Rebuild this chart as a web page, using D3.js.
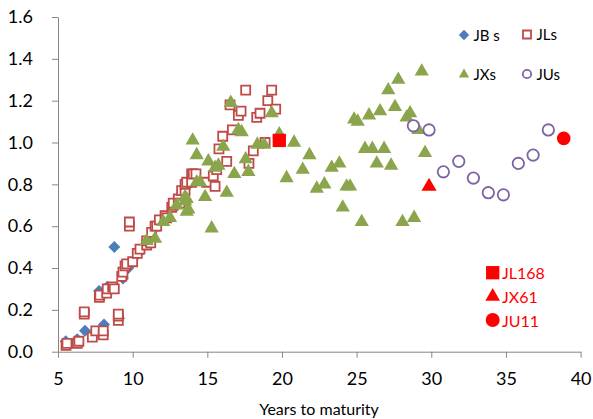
<!DOCTYPE html>
<html>
<head>
<meta charset="utf-8">
<script src="https://cdn.jsdelivr.net/npm/d3@7"></script>
<style>
  body { margin: 0; background: #fff; }
  text { font-family: Lato, "Noto Sans", sans-serif; }
</style>
</head>
<body>
<div id="chart"></div>
<script>
// series values, [years to maturity, value]
var jbs = [[5.52,0.05],[6.29,0.06],[6.81,0.10],[8.08,0.13],[8.77,0.50],
    [7.75,0.29],[8.3,0.31],[9.09,0.16],[9.35,0.35],[9.71,0.40],[10.4,0.47]];

var jls = [[5.54,0.03],[5.6,0.04],[6.29,0.04],[6.4,0.05],[6.76,0.18],[6.76,0.19],
    [7.3,0.07],[7.53,0.10],[8.03,0.08],[8.03,0.10],[9.04,0.15],[9.04,0.17],[9.04,0.18],
    [7.77,0.26],[7.8,0.27],[8.26,0.28],[8.3,0.30],[8.66,0.31],[8.77,0.30],[9.27,0.36],
    [9.35,0.38],[9.49,0.41],[9.6,0.42],[10.0,0.43],[10.31,0.47],[10.49,0.49],[10.94,0.51],
    [10.94,0.53],[11.21,0.52],[11.27,0.57],[11.5,0.60],[11.61,0.60],[11.79,0.63],[12.17,0.65],
    [12.28,0.64],[12.62,0.69],[12.72,0.70],[12.72,0.71],[13.06,0.72],[13.06,0.73],[13.17,0.71],
    [13.28,0.77],[13.51,0.77],[13.51,0.80],[13.62,0.81],[13.95,0.81],[13.95,0.85],[14.06,0.85],
    [14.24,0.85],[14.96,0.81],[15.4,0.84],[15.52,0.79],[15.63,0.87],[15.78,0.97],[16.03,1.03],
    [16.3,0.91],[16.52,1.18],[16.68,1.06],[17.08,1.13],[17.26,1.15],[17.57,1.25],[17.79,0.90],
    [18.08,0.96],[18.31,1.12],[18.53,1.14],[18.87,1.00],[19.05,1.20],[19.31,1.25],[19.58,1.16],
    [9.78,0.60],[9.78,0.62]];

var jxs = [[10.94,0.53],[11.5,0.54],[12.05,0.62],[12.5,0.64],[12.95,0.70],[13.51,0.72],
    [13.51,0.74],[13.62,0.67],[13.73,0.68],[13.62,0.73],[14.02,1.01],[14.29,0.94],[14.29,0.81],
    [14.51,0.81],[14.85,0.74],[15.07,0.91],[15.29,0.59],[15.52,0.88],[15.74,0.89],[16.07,0.98],
    [16.30,0.76],[16.57,1.19],[16.81,0.85],[17.08,1.06],[17.30,1.05],[17.57,0.92],[17.75,0.86],
    [18.35,0.99],[18.80,0.99],[19.31,1.14],[19.82,1.04],[20.31,0.83],[20.81,1.00],[21.39,0.87],
    [21.84,0.94],[22.33,0.78],[22.84,0.80],[23.33,0.88],[23.84,0.90],[24.07,0.69],[24.33,0.79],
    [24.56,0.79],[24.83,1.11],[25.07,1.10],[25.34,0.62],[25.56,0.97],[25.83,1.13],[26.05,0.97],
    [26.35,0.90],[26.57,1.15],[26.84,0.97],[27.12,1.25],[27.31,0.89],[27.57,1.17],[27.79,1.30],
    [28.07,0.62],[28.35,1.12],[28.58,1.14],[28.85,0.64],[29.13,1.06],[29.36,1.34],[29.58,0.95]];

var jus = [[28.80,1.08],[29.85,1.06],[30.81,0.86],[31.84,0.91],[32.82,0.83],
    [33.82,0.76],[34.83,0.75],[35.83,0.90],[36.82,0.94],[37.84,1.06]];

var jl168 = [[19.82,1.01]];
var jx61 = [[29.85,0.79]];
var ju11 = [[38.87,1.02]];

var xTicks = [5, 10, 15, 20, 25, 30, 35, 40];
var yTicks = [0, 0.2, 0.4, 0.6, 0.8, 1.0, 1.2, 1.4, 1.6];

var W = 593, H = 419;
var axisColor = "#868686";

var svg = d3.select("#chart").append("svg")
    .attr("width", W).attr("height", H);

var x = d3.scaleLinear().domain([5, 40]).range([58, 580.6]);
var y = d3.scaleLinear().domain([0, 1.6]).range([351.7, 17]);

// axes
var xAxis = svg.append("g")
    .attr("transform", "translate(0," + y(0) + ")")
    .call(d3.axisBottom(x).tickValues(xTicks).tickSize(6).tickPadding(15)
        .tickFormat(d3.format("d")).tickSizeOuter(0));
var yAxis = svg.append("g")
    .attr("transform", "translate(" + x(5) + ",0)")
    .call(d3.axisLeft(y).tickValues(yTicks).tickSize(6).tickPadding(19)
        .tickFormat(d3.format(".1f")).tickSizeOuter(0));

[xAxis, yAxis].forEach(function(a) {
    a.select(".domain").attr("stroke", axisColor);
    a.selectAll(".tick line").attr("stroke", axisColor);
    a.selectAll(".tick text").attr("fill", "#000")
        .style("font-size", "18px").style("font-family", "Lato, 'Noto Sans', sans-serif");
});

svg.append("text")
    .attr("x", 319).attr("y", 415)
    .attr("text-anchor", "middle")
    .style("font-size", "16px")
    .text("Years to maturity");

// markers
var plot = svg.append("g");

function drawSeries(data, type, size, fill, stroke, sw, rot) {
    plot.append("g").selectAll("path")
        .data(data)
        .enter()
        .append("path")
            .attr("d", d3.symbol().type(type).size(size))
            .attr("transform", function(d) {
                return "translate(" + x(d[0]) + "," + y(d[1]) + ")" + (rot ? " rotate(45)" : "");
            })
            .attr("fill", fill)
            .attr("stroke", stroke)
            .attr("stroke-width", sw);
}

drawSeries(jbs, d3.symbolSquare, 72, "#4a7ebb", "none", 0, true);
drawSeries(jls, d3.symbolSquare, 81, "#fff", "#be4b48", 1.8);
drawSeries(jxs, d3.symbolTriangle, 88, "#8ba54c", "none", 0);
drawSeries(jus, d3.symbolCircle, Math.PI * 5.7 * 5.7, "#fff", "#7f63a2", 1.8);
drawSeries(jl168, d3.symbolSquare, 177, "#ff0000", "none", 0);
drawSeries(jx61, d3.symbolTriangle, 100, "#ff0000", "none", 0);
drawSeries(ju11, d3.symbolCircle, Math.PI * 6.8 * 6.8, "#ff0000", "none", 0);

// legend, top right
var legend = svg.append("g").attr("id", "legend");
var legItems = [
    {name: "JB s", mx: 464, my: 35, type: d3.symbolSquare, size: 53, fill: "#4a7ebb", stroke: "none", rot: true},
    {name: "JLs", mx: 527, my: 34.5, type: d3.symbolSquare, size: 64, fill: "#fff", stroke: "#be4b48"},
    {name: "JXs", mx: 464, my: 74.5, type: d3.symbolTriangle, size: 46, fill: "#8ba54c", stroke: "none"},
    {name: "JUs", mx: 527, my: 74, type: d3.symbolCircle, size: Math.PI * 4.2 * 4.2, fill: "#fff", stroke: "#7f63a2"}
];
legItems.forEach(function(it) {
    legend.append("path")
        .attr("d", d3.symbol().type(it.type).size(it.size))
        .attr("transform", "translate(" + it.mx + "," + it.my + ")" + (it.rot ? " rotate(45)" : ""))
        .attr("fill", it.fill)
        .attr("stroke", it.stroke)
        .attr("stroke-width", 1.8);
    legend.append("text")
        .attr("x", it.mx + 9.5).attr("y", it.my + 5.5)
        .style("font-size", "15px")
        .text(it.name);
});

// red highlighted bonds
var redItems = [
    {name: "JL168", my: 272.7, type: d3.symbolSquare, size: 177},
    {name: "JX61", my: 296.5, type: d3.symbolTriangle, size: 93},
    {name: "JU11", my: 320, type: d3.symbolCircle, size: Math.PI * 7 * 7}
];
redItems.forEach(function(it) {
    legend.append("path")
        .attr("d", d3.symbol().type(it.type).size(it.size))
        .attr("transform", "translate(492.7," + it.my + ")")
        .attr("fill", "#ff0000");
    legend.append("text")
        .attr("x", 502).attr("y", it.my + 6.5)
        .attr("fill", "#ff0000")
        .style("font-size", "16px")
        .text(it.name);
});
</script>
</body>
</html>
